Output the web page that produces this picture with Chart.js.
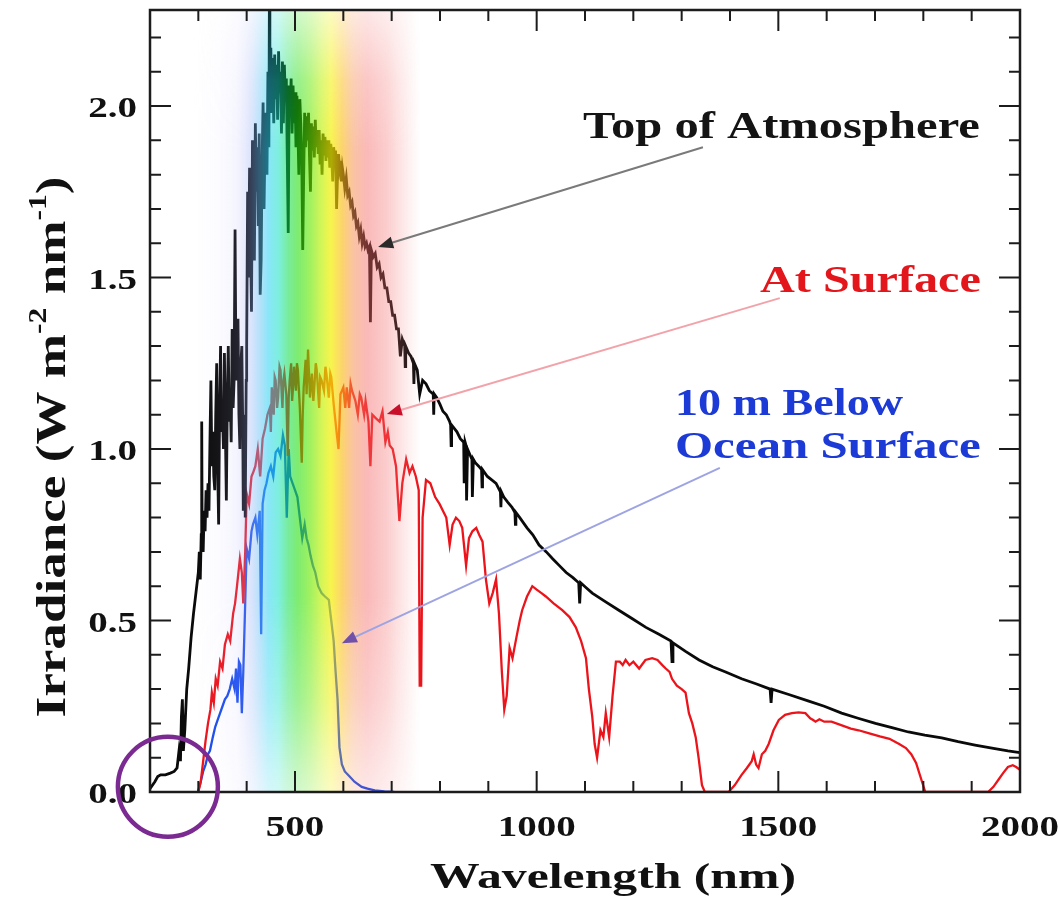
<!DOCTYPE html>
<html>
<head>
<meta charset="utf-8">
<title>Solar irradiance spectrum</title>
<script src="https://cdn.jsdelivr.net/npm/chart.js@4.4.1/dist/chart.umd.min.js"></script>
<style>
    html, body { margin: 0; padding: 0; background: #ffffff; }
    #wrap { width: 1058px; height: 897px; }
</style>
</head>
<body>
<div id="wrap"><canvas id="spectrumChart" width="1058" height="897"></canvas></div>
<script>
// ---- data: [wavelength nm, irradiance W m-2 nm-1] ----
const toaSpectrum = [
    [200, 0.01], [210, 0.03], [216, 0.045], [222, 0.05], [232, 0.05], [242, 0.055], [250, 0.06], [256, 0.07],
    [260, 0.12], [263, 0.09], [265, 0.22], [267, 0.27], [269, 0.12], [272, 0.18], [276, 0.30], [280, 0.36],
    [285, 0.45], [290, 0.52], [295, 0.58], [300, 0.64], [302, 0.70], [304, 0.62], [306, 0.75], [307, 1.08],
    [308, 0.72], [310, 0.70], [312, 0.82], [314, 0.76], [316, 0.88], [318, 0.80], [320, 0.90], [322, 0.82],
    [324, 1.02], [326, 1.20], [328, 0.95], [330, 1.05], [332, 0.92], [334, 0.88], [336, 1.10], [338, 1.25],
    [340, 0.95], [342, 0.78], [344, 1.12], [346, 1.30], [348, 1.05], [350, 1.10], [352, 1.00], [354, 1.28],
    [356, 1.05], [358, 0.85], [360, 1.15], [362, 1.30], [364, 1.08], [366, 1.15], [368, 1.02], [370, 1.35],
    [372, 1.12], [374, 1.20], [376, 1.64], [378, 1.20], [380, 1.30], [382, 1.38], [384, 1.10], [386, 1.00],
    [388, 1.25], [390, 1.30], [392, 1.05], [393, 0.82], [395, 1.00], [396, 1.10], [397, 0.80], [399, 1.20],
    [400, 1.30], [402, 1.75], [404, 1.50], [406, 1.82], [408, 1.60], [410, 1.40], [412, 1.90], [414, 1.70],
    [416, 1.55], [418, 1.95], [420, 1.75], [422, 1.88], [424, 1.65], [426, 1.92], [428, 1.45], [430, 1.55],
    [432, 1.85], [434, 2.01], [436, 1.70], [438, 1.90], [440, 1.98], [442, 1.80], [444, 2.10], [446, 1.88],
    [447, 2.30], [448, 2.00], [450, 2.17], [452, 1.98], [454, 2.14], [456, 1.95], [458, 2.15], [460, 2.02],
    [462, 2.12], [464, 1.96], [466, 2.16], [468, 2.04], [470, 2.10], [472, 1.92], [474, 2.13], [476, 1.95],
    [478, 2.12], [480, 2.02], [482, 2.08], [484, 1.85], [486, 1.63], [488, 2.06], [490, 1.98], [492, 2.08],
    [494, 1.92], [496, 2.06], [498, 1.95], [500, 2.04], [502, 1.88], [504, 2.03], [506, 1.93], [508, 1.80],
    [510, 2.02], [512, 1.95], [514, 1.85], [516, 1.58], [518, 1.80], [520, 1.98], [522, 1.88], [524, 1.97],
    [526, 1.90], [528, 1.98], [530, 1.85], [532, 1.75], [534, 1.95], [536, 1.87], [538, 1.94], [540, 1.85],
    [542, 1.96], [544, 1.88], [546, 1.93], [548, 1.86], [550, 1.93], [552, 1.83], [554, 1.90], [556, 1.80],
    [558, 1.92], [560, 1.86], [562, 1.91], [564, 1.84], [566, 1.90], [568, 1.85], [570, 1.90], [572, 1.82],
    [574, 1.89], [576, 1.85], [578, 1.78], [580, 1.88], [582, 1.84], [584, 1.87], [586, 1.70], [588, 1.80],
    [590, 1.86], [592, 1.82], [594, 1.84], [596, 1.78], [598, 1.82], [600, 1.80], [603, 1.76], [606, 1.79],
    [609, 1.74], [612, 1.75], [615, 1.71], [618, 1.72], [621, 1.68], [624, 1.69], [627, 1.65], [630, 1.66],
    [633, 1.62], [636, 1.64], [639, 1.60], [642, 1.62], [645, 1.59], [648, 1.60], [651, 1.58], [654, 1.59],
    [656, 1.37], [658, 1.58], [662, 1.56], [666, 1.57], [670, 1.53], [674, 1.54], [678, 1.50], [682, 1.51],
    [686, 1.47], [690, 1.47], [694, 1.43], [698, 1.43], [702, 1.39], [706, 1.39], [710, 1.35], [714, 1.35],
    [718, 1.27], [722, 1.32], [727, 1.30], [728, 1.24], [729, 1.30], [735, 1.28], [740, 1.27], [745, 1.25],
    [746, 1.19], [747, 1.25], [753, 1.23], [758, 1.16], [764, 1.20], [771, 1.19], [778, 1.17], [786, 1.16],
    [787, 1.10], [788, 1.16], [793, 1.15], [800, 1.13], [806, 1.11], [813, 1.10], [820, 1.08], [822, 1.07],
    [823, 1.01], [824, 1.07], [835, 1.05], [842, 1.03], [849, 1.02], [850, 0.90], [852, 1.02], [854, 1.01],
    [855, 0.85], [857, 1.00], [860, 0.99], [866, 0.97], [867, 0.86], [869, 0.97], [873, 0.96], [880, 0.95],
    [886, 0.94], [887, 0.89], [888, 0.94], [898, 0.92], [907, 0.91], [916, 0.90], [925, 0.875], [926, 0.83],
    [927, 0.875], [932, 0.86], [940, 0.845], [949, 0.83], [955, 0.815], [956, 0.78], [957, 0.815], [965, 0.80],
    [980, 0.77], [992, 0.75], [1005, 0.72], [1020, 0.70], [1033, 0.68], [1047, 0.66], [1061, 0.64], [1075, 0.625],
    [1087, 0.61], [1089, 0.55], [1091, 0.61], [1103, 0.595], [1115, 0.58], [1142, 0.555], [1170, 0.53], [1198, 0.505],
    [1226, 0.48], [1253, 0.46], [1278, 0.44], [1280, 0.38], [1282, 0.435], [1308, 0.41], [1336, 0.385], [1364, 0.365],
    [1391, 0.35], [1424, 0.33], [1455, 0.315], [1483, 0.30], [1485, 0.26], [1487, 0.30], [1520, 0.285], [1563, 0.265],
    [1595, 0.25], [1631, 0.23], [1665, 0.215], [1701, 0.20], [1735, 0.188], [1769, 0.175], [1803, 0.166], [1838, 0.158],
    [1872, 0.147], [1907, 0.137], [1945, 0.127], [1975, 0.12], [2000, 0.115]
];

const surfaceSpectrum = [
    [300, 0.0], [305, 0.03], [310, 0.09], [315, 0.15], [320, 0.20], [325, 0.24], [328, 0.29], [332, 0.26],
    [336, 0.33], [340, 0.31], [345, 0.38], [350, 0.36], [355, 0.43], [361, 0.46], [366, 0.44], [372, 0.52],
    [376, 0.55], [380, 0.60], [386, 0.68], [390, 0.64], [393, 0.55], [397, 0.70], [400, 0.87], [405, 0.84],
    [410, 0.92], [413, 0.93], [418, 0.95], [423, 1.00], [428, 0.92], [433, 1.03], [438, 1.06], [443, 1.10],
    [448, 1.12], [450, 1.05], [452, 1.18], [456, 1.10], [458, 1.21], [460, 1.20], [463, 1.12], [465, 1.15],
    [468, 1.24], [470, 1.23], [474, 1.12], [476, 1.20], [478, 1.22], [482, 1.16], [485, 0.98], [487, 1.15],
    [489, 1.20], [492, 1.25], [494, 1.14], [496, 1.18], [498, 1.24], [502, 1.17], [504, 1.25], [506, 1.23],
    [510, 1.12], [514, 0.96], [516, 1.10], [518, 1.18], [522, 1.26], [524, 1.16], [527, 1.29], [531, 1.15],
    [535, 1.22], [538, 1.14], [540, 1.18], [543, 1.25], [545, 1.23], [550, 1.12], [552, 1.21], [555, 1.20],
    [560, 1.17], [563, 1.24], [565, 1.22], [570, 1.15], [573, 1.22], [575, 1.21], [580, 1.13], [586, 1.05],
    [590, 1.00], [594, 1.16], [600, 1.18], [604, 1.12], [607, 1.18], [612, 1.12], [615, 1.19], [618, 1.17],
    [625, 1.14], [630, 1.10], [634, 1.16], [637, 1.15], [643, 1.10], [646, 1.14], [648, 1.12], [652, 1.08],
    [656, 0.95], [660, 1.10], [667, 1.09], [675, 1.08], [681, 1.11], [687, 1.02], [692, 1.05], [696, 1.01],
    [702, 1.00], [709, 0.95], [716, 0.79], [722, 0.90], [730, 0.97], [737, 0.93], [743, 0.95], [750, 0.92],
    [756, 0.88], [758, 0.31], [761, 0.31], [764, 0.80], [771, 0.91], [780, 0.90], [790, 0.86], [799, 0.84],
    [806, 0.82], [813, 0.80], [820, 0.72], [826, 0.78], [833, 0.80], [840, 0.79], [846, 0.77], [854, 0.66],
    [860, 0.74], [867, 0.76], [875, 0.77], [881, 0.75], [888, 0.73], [895, 0.62], [902, 0.55], [909, 0.58],
    [916, 0.62], [922, 0.52], [928, 0.35], [933, 0.24], [938, 0.28], [944, 0.42], [950, 0.39], [958, 0.45],
    [965, 0.50], [970, 0.53], [980, 0.57], [991, 0.60], [1000, 0.59], [1010, 0.58], [1019, 0.57], [1035, 0.55],
    [1053, 0.53], [1068, 0.51], [1081, 0.48], [1092, 0.44], [1102, 0.39], [1108, 0.30], [1115, 0.22], [1120, 0.14],
    [1125, 0.10], [1132, 0.18], [1138, 0.16], [1143, 0.23], [1150, 0.16], [1157, 0.28], [1164, 0.38], [1172, 0.38],
    [1178, 0.37], [1184, 0.385], [1192, 0.37], [1200, 0.38], [1212, 0.36], [1225, 0.385], [1239, 0.39], [1250, 0.385],
    [1260, 0.37], [1267, 0.36], [1275, 0.35], [1280, 0.33], [1290, 0.31], [1300, 0.30], [1308, 0.29], [1315, 0.23],
    [1322, 0.20], [1329, 0.16], [1335, 0.10], [1342, 0.02], [1348, 0.0], [1397, 0.0], [1410, 0.02], [1424, 0.05],
    [1435, 0.07], [1445, 0.09], [1449, 0.11], [1454, 0.08], [1459, 0.07], [1466, 0.11], [1473, 0.12], [1480, 0.14],
    [1490, 0.18], [1501, 0.21], [1514, 0.225], [1528, 0.23], [1542, 0.232], [1556, 0.23], [1566, 0.215], [1572, 0.21],
    [1577, 0.205], [1585, 0.212], [1595, 0.205], [1610, 0.205], [1630, 0.195], [1650, 0.185], [1666, 0.18], [1690, 0.17],
    [1710, 0.162], [1730, 0.155], [1750, 0.14], [1764, 0.128], [1775, 0.11], [1785, 0.085], [1795, 0.04], [1804, 0.0],
    [1934, 0.0], [1945, 0.015], [1955, 0.035], [1965, 0.055], [1975, 0.073], [1985, 0.078], [1992, 0.073], [2000, 0.065]
];

const oceanSpectrum = [
    [299, 0.0], [305, 0.03], [310, 0.06], [315, 0.08], [320, 0.11], [324, 0.12], [330, 0.16], [335, 0.19],
    [340, 0.21], [345, 0.23], [350, 0.25], [355, 0.27], [360, 0.28], [365, 0.30], [370, 0.33], [375, 0.30],
    [378, 0.36], [381, 0.26], [384, 0.38], [387, 0.37], [390, 0.23], [393, 0.35], [396, 0.50], [400, 0.71],
    [405, 0.68], [410, 0.76], [413, 0.78], [418, 0.80], [422, 0.75], [427, 0.82], [430, 0.46], [433, 0.84],
    [437, 0.88], [441, 0.90], [445, 0.93], [450, 0.95], [455, 0.92], [460, 0.99], [465, 1.00], [470, 0.98],
    [475, 1.04], [479, 1.01], [483, 0.80], [487, 1.00], [490, 0.92], [495, 0.90], [500, 0.88], [505, 0.86],
    [510, 0.80], [515, 0.74], [520, 0.78], [524, 0.74], [528, 0.72], [532, 0.69], [537, 0.66], [542, 0.64],
    [548, 0.60], [555, 0.58], [562, 0.57], [570, 0.56], [575, 0.50], [580, 0.44], [584, 0.35], [588, 0.27],
    [592, 0.13], [597, 0.08], [603, 0.06], [613, 0.045], [623, 0.03], [638, 0.015], [650, 0.01], [665, 0.005],
    [685, 0.002], [705, 0.0]
];

const xTickLabels = [500, 1000, 1500, 2000];
const yTickLabels = [0.0, 0.5, 1.0, 1.5, 2.0];
const seriesNames = ['Top of Atmosphere', 'At Surface', '10 m Below Ocean Surface'];

// ---- drawing constants ----
const serif = '"Liberation Serif", "Times New Roman", serif';
const curveColors = ['#0a0a0a', '#ec141b', '#1b4ded'];

// visible spectrum band: [nm, r, g, b, alpha]
const bandStops = [
    [290, 200, 195, 255, 0], [340, 200, 195, 255, 0.06], [380, 180, 180, 250, 0.15], [405, 150, 170, 245, 0.3],
    [425, 100, 190, 245, 0.45], [445, 40, 210, 240, 0.55], [465, 20, 225, 200, 0.55], [485, 10, 220, 80, 0.55],
    [505, 30, 222, 10, 0.58], [530, 100, 232, 0, 0.62], [555, 190, 240, 0, 0.66], [575, 245, 240, 0, 0.7],
    [598, 250, 185, 20, 0.62], [622, 245, 140, 80, 0.52], [650, 245, 100, 100, 0.45], [690, 245, 110, 110, 0.35],
    [725, 245, 130, 130, 0.18], [760, 245, 150, 150, 0]
];

// callout texts and arrows, placed in data units
const callouts = [
    { text: 'Top of Atmosphere', from: 1096, to: 1917, y: 1.907, color: '#141414' },
    { text: 'At Surface', from: 1462, to: 1919, y: 1.458, color: '#e3161c' },
    { text: '10 m Below', from: 1286, to: 1758, y: 1.099, color: '#1c3ad6' },
    { text: 'Ocean Surface', from: 1286, to: 1919, y: 0.974, color: '#1c3ad6' }
];
const arrows = [
    { tail: [1344, 1.880], head: [672, 1.589], line: '#7a7a7a', tip: '#2a2a2a' },
    { tail: [1503, 1.440], head: [690, 1.102], line: '#f2a3aa', tip: '#c8102a' },
    { tail: [1379, 0.945], head: [597, 0.434], line: '#9ea4e2', tip: '#7050a8' }
];

function toPoints(pairs) {
    return pairs.map(p => ({ x: p[0], y: p[1] }));
}

// Draw text squeezed or stretched along its direction to a given width
function fitText(ctx, text, x, y, font, width, color) {
    ctx.save();
    ctx.font = font;
    const w = ctx.measureText(text).width;
    ctx.translate(x, y);
    ctx.scale(width / w, 1);
    ctx.fillStyle = color;
    ctx.textAlign = 'left';
    ctx.textBaseline = 'alphabetic';
    ctx.fillText(text, 0, 0);
    ctx.restore();
}

// Text with a horizontal stretch factor
function stretchText(ctx, text, x, y, font, sx, align, baseline) {
    ctx.save();
    ctx.font = font;
    ctx.translate(x, y);
    ctx.scale(sx, 1);
    ctx.fillStyle = '#111111';
    ctx.textAlign = align;
    ctx.textBaseline = baseline;
    ctx.fillText(text, 0, 0);
    ctx.restore();
}

// Tinted band over the visible wavelengths, laid over the curves
const spectrumBand = {
    id: 'spectrumBand',
    afterDatasetsDraw(chart) {
        const { ctx, chartArea: a, scales: { x } } = chart;
        const w = Math.round(a.right - a.left), h = Math.round(a.bottom - a.top);
        const off = document.createElement('canvas');
        off.width = w;
        off.height = h;
        const o = off.getContext('2d');
        const x0 = x.getPixelForValue(bandStops[0][0]) - a.left;
        const x1 = x.getPixelForValue(bandStops[bandStops.length - 1][0]) - a.left;
        const g = o.createLinearGradient(x0, 0, x1, 0);
        bandStops.forEach(s => {
            const p = (x.getPixelForValue(s[0]) - a.left - x0) / (x1 - x0);
            g.addColorStop(p, `rgba(${s[1]},${s[2]},${s[3]},${s[4]})`);
        });
        o.fillStyle = g;
        o.fillRect(0, 0, w, h);

        // fade towards the top and the bottom of the frame
        o.globalCompositeOperation = 'destination-in';
        const v = o.createLinearGradient(0, 0, 0, h);
        v.addColorStop(0, 'rgba(0,0,0,0.35)');
        v.addColorStop(0.09, 'rgba(0,0,0,0.8)');
        v.addColorStop(0.18, 'rgba(0,0,0,1)');
        v.addColorStop(0.75, 'rgba(0,0,0,1)');
        v.addColorStop(0.88, 'rgba(0,0,0,0.75)');
        v.addColorStop(1, 'rgba(0,0,0,0.35)');
        o.fillStyle = v;
        o.fillRect(0, 0, w, h);

        ctx.drawImage(off, a.left, a.top);
    }
};

// Boxed frame with inward ticks, tick labels and axis titles
const boxFrame = {
    id: 'boxFrame',
    afterDraw(chart) {
        const { ctx, chartArea: a, scales: { x, y } } = chart;
        ctx.save();
        ctx.strokeStyle = '#1c1c1c';
        ctx.lineWidth = 2;
        ctx.beginPath();
        // minor and major ticks on the x axis (bottom and top)
        for (let v = 300; v < 2000; v += 100) {
            const px = x.getPixelForValue(v);
            const len = xTickLabels.includes(v) ? 21 : 11;
            ctx.moveTo(px, a.bottom); ctx.lineTo(px, a.bottom - len);
            ctx.moveTo(px, a.top); ctx.lineTo(px, a.top + len);
        }
        // minor and major ticks on the y axis (left and right)
        for (let i = 1; i <= 22; i++) {
            const py = y.getPixelForValue(i / 10);
            const len = (i % 5 === 0) ? 21 : 11;
            ctx.moveTo(a.left, py); ctx.lineTo(a.left + len, py);
            ctx.moveTo(a.right, py); ctx.lineTo(a.right - len, py);
        }
        ctx.stroke();
        ctx.lineWidth = 2.5;
        ctx.strokeRect(a.left, a.top, a.right - a.left, a.bottom - a.top);

        // tick labels
        const tickFont = 'bold 30px ' + serif;
        xTickLabels.forEach(v => {
            stretchText(ctx, String(v), x.getPixelForValue(v), a.bottom + 44, tickFont, 1.3, 'center', 'alphabetic');
        });
        yTickLabels.forEach(v => {
            stretchText(ctx, v.toFixed(1), a.left - 13, y.getPixelForValue(v) + 11, tickFont, 1.3, 'right', 'alphabetic');
        });

        // x axis title
        fitText(ctx, 'Wavelength (nm)', 430, 888, 'bold 36px ' + serif, 366, '#111111');

        // y axis title, rotated, with superscripts
        const segs = [
            { t: 'Irradiance (W m', sup: false }, { t: '-2', sup: true },
            { t: ' nm', sup: false }, { t: '-1', sup: true }, { t: ')', sup: false }
        ];
        const mainFont = 'bold 42px ' + serif, supFont = 'bold 25px ' + serif;
        let total = 0;
        segs.forEach(s => {
            ctx.font = s.sup ? supFont : mainFont;
            s.w = ctx.measureText(s.t).width;
            total += s.w;
        });
        ctx.save();
        ctx.translate(65, 447);
        ctx.rotate(-Math.PI / 2);
        ctx.scale(541 / total, 1);
        ctx.fillStyle = '#111111';
        ctx.textAlign = 'left';
        ctx.textBaseline = 'alphabetic';
        let cx = -total / 2;
        segs.forEach(s => {
            ctx.font = s.sup ? supFont : mainFont;
            ctx.fillText(s.t, cx, s.sup ? -19 : 0);
            cx += s.w;
        });
        ctx.restore();
        ctx.restore();
    }
};

// Callout labels, arrows and the marker circle
const callout = {
    id: 'callout',
    afterDraw(chart) {
        const { ctx, scales: { x, y } } = chart;
        ctx.save();
        arrows.forEach(ar => {
            const tx = x.getPixelForValue(ar.tail[0]), ty = y.getPixelForValue(ar.tail[1]);
            const hx = x.getPixelForValue(ar.head[0]), hy = y.getPixelForValue(ar.head[1]);
            const ang = Math.atan2(hy - ty, hx - tx);
            ctx.strokeStyle = ar.line;
            ctx.lineWidth = 2;
            ctx.beginPath();
            ctx.moveTo(tx, ty);
            ctx.lineTo(hx - 10 * Math.cos(ang), hy - 10 * Math.sin(ang));
            ctx.stroke();
            ctx.fillStyle = ar.tip;
            ctx.beginPath();
            ctx.moveTo(hx, hy);
            ctx.lineTo(hx - 15 * Math.cos(ang) + 6 * Math.sin(ang), hy - 15 * Math.sin(ang) - 6 * Math.cos(ang));
            ctx.lineTo(hx - 15 * Math.cos(ang) - 6 * Math.sin(ang), hy - 15 * Math.sin(ang) + 6 * Math.cos(ang));
            ctx.closePath();
            ctx.fill();
        });

        callouts.forEach(c => {
            const x0 = x.getPixelForValue(c.from), x1 = x.getPixelForValue(c.to);
            fitText(ctx, c.text, x0, y.getPixelForValue(c.y), 'bold 38px ' + serif, x1 - x0, c.color);
        });

        // circle around the short-wave start of the spectrum
        ctx.strokeStyle = '#7a2a91';
        ctx.lineWidth = 4.5;
        ctx.beginPath();
        ctx.arc(x.getPixelForValue(237), y.getPixelForValue(0.015), 50, 0, Math.PI * 2);
        ctx.stroke();
        ctx.restore();
    }
};

document.addEventListener('DOMContentLoaded', () => {
    const ctx = document.getElementById('spectrumChart').getContext('2d');

    new Chart(ctx, {
        type: 'line',
        data: {
            datasets: [
                { label: seriesNames[0], data: toPoints(toaSpectrum), borderColor: curveColors[0], borderWidth: 2.8 },
                { label: seriesNames[1], data: toPoints(surfaceSpectrum), borderColor: curveColors[1], borderWidth: 2.3 },
                { label: seriesNames[2], data: toPoints(oceanSpectrum), borderColor: curveColors[2], borderWidth: 2.3 }
            ]
        },
        options: {
            responsive: false,
            animation: false,
            events: [],
            layout: { padding: { left: 0, right: 38, top: 10, bottom: 0 } },
            elements: {
                point: { radius: 0 },
                line: { tension: 0, borderJoinStyle: 'miter', fill: false }
            },
            plugins: {
                legend: { display: false },
                tooltip: { enabled: false }
            },
            scales: {
                x: {
                    type: 'linear',
                    min: 200,
                    max: 2000,
                    grid: { display: false, drawTicks: false },
                    border: { display: false },
                    ticks: { display: false, stepSize: 100 },
                    afterFit: scale => { scale.height = 105; }
                },
                y: {
                    min: 0,
                    max: 2.28,
                    grid: { display: false, drawTicks: false },
                    border: { display: false },
                    ticks: { display: false, stepSize: 0.1 },
                    afterFit: scale => { scale.width = 150; }
                }
            }
        },
        plugins: [spectrumBand, boxFrame, callout]
    });
});
</script>
</body>
</html>
